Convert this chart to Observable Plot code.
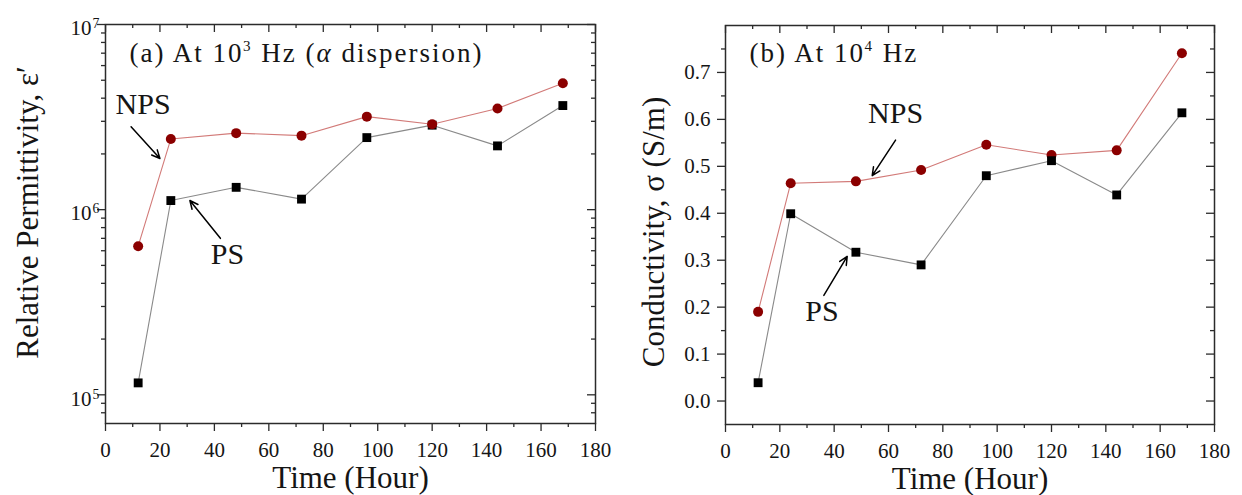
<!DOCTYPE html>
<html><head><meta charset="utf-8">
<script src="https://cdn.jsdelivr.net/npm/d3@7"></script>
<script src="https://cdn.jsdelivr.net/npm/@observablehq/plot@0.6"></script>
<style>
html,body{margin:0;padding:0;background:#fff;}
#wrap{display:flex;width:1242px;height:495px;overflow:hidden;}
#wrap svg{flex:none;}
</style></head><body><div id="wrap"></div>
<script>
// ---------- data ----------
const hours = [12, 24, 48, 72, 96, 120, 144, 168];
const permNPS = [6.35e5, 2.41e6, 2.59e6, 2.51e6, 3.18e6, 2.89e6, 3.52e6, 4.82e6];
const permPS  = [1.16e5, 1.12e6, 1.32e6, 1.14e6, 2.45e6, 2.86e6, 2.21e6, 3.65e6];
const condNPS = [0.190, 0.464, 0.468, 0.492, 0.546, 0.524, 0.534, 0.741];
const condPS  = [0.039, 0.399, 0.317, 0.290, 0.480, 0.512, 0.439, 0.614];

const xMajorTicks = [0, 20, 40, 60, 80, 100, 120, 140, 160, 180];
const xMinorTicks = [10, 30, 50, 70, 90, 110, 130, 150, 170];
const permMajorTicks = [1e5, 1e6, 1e7];
const permMinorTicks = [8e4, 9e4, 2e5, 3e5, 4e5, 5e5, 6e5, 7e5, 8e5, 9e5, 2e6, 3e6, 4e6, 5e6, 6e6, 7e6, 8e6, 9e6];
const condMajorTicks = [0, 0.1, 0.2, 0.3, 0.4, 0.5, 0.6, 0.7];
const condMinorTicks = [0.05, 0.15, 0.25, 0.35, 0.45, 0.55, 0.65, 0.75];

const titleA = "(a) At 10^{3} Hz (*{α} dispersion)";
const titleB = "(b) At 10^{4} Hz";
const yLabelA = "Relative Permittivity, ε′";
const yLabelB = "Conductivity, σ (S/m)";
const xLabel = "Time (Hour)";

const labelsA = [{text: "NPS", x: 13.8, y: 3.68e6}, {text: "PS", x: 44.8, y: 5.75e5}];
const arrowsA = [{x1: 9.4, y1: 2.8e6, x2: 20.0, y2: 1.89e6}, {x1: 42.2, y1: 7.0e5, x2: 31.0, y2: 1.12e6}];
const labelsB = [{text: "NPS", x: 62.6, y: 0.613}, {text: "PS", x: 35.5, y: 0.191}];
const arrowsB = [{x1: 62.6, y1: 0.556, x2: 54.0, y2: 0.480}, {x1: 36.2, y1: 0.225, x2: 44.8, y2: 0.308}];

// ---------- style ----------
const FONT = '"Liberation Serif","Times New Roman",serif';
const ink = "#2b2b2b";
const npsLine = "#d27a78", npsDot = "#8b0000";
const psLine = "#8a8a8a", psDot = "#000000";

function panel(o) {
  const W = 621, H = 495;
  const fw = W - o.ml - o.mr, fh = H - o.mt - o.mb;
  const rows = hours.map((h, i) => ({hour: h, nps: o.nps[i], ps: o.ps[i]}));
  const seriesPS = [
    Plot.line(rows, {x: "hour", y: "ps", stroke: psLine, strokeWidth: 1.1}),
    Plot.dot(rows, {x: "hour", y: "ps", symbol: "square", r: 5, fill: psDot, stroke: "none"})
  ];
  const seriesNPS = [
    Plot.line(rows, {x: "hour", y: "nps", stroke: npsLine, strokeWidth: 1.1}),
    Plot.dot(rows, {x: "hour", y: "nps", symbol: "circle", r: 5, fill: npsDot, stroke: "none"})
  ];
  const tk = {stroke: ink, strokeWidth: 1.3};
  return Plot.plot({
    width: W, height: H,
    marginLeft: o.ml, marginRight: o.mr, marginTop: o.mt, marginBottom: o.mb,
    style: {fontFamily: FONT, fontSize: "21px", background: "white", color: "#151515", overflow: "visible"},
    x: {domain: [0, 180]},
    y: {type: o.yType, domain: o.yDomain},
    marks: [
      // ticks: top (inward), bottom (outward)
      Plot.tickX(xMajorTicks, {insetBottom: fh - 8, ...tk}),
      Plot.tickX(xMinorTicks, {insetBottom: fh - 4, ...tk}),
      Plot.tickX(xMajorTicks, {insetTop: fh, insetBottom: -8, ...tk}),
      Plot.tickX(xMinorTicks, {insetTop: fh, insetBottom: -4, ...tk}),
      // ticks: left (outward), right (inward)
      Plot.tickY(o.yMajor, {insetLeft: -8, insetRight: fw, ...tk}),
      Plot.tickY(o.yMinor, {insetLeft: -4, insetRight: fw, ...tk}),
      Plot.tickY(o.yMajor, {insetLeft: fw - 8, ...tk}),
      Plot.tickY(o.yMinor, {insetLeft: fw - 4, ...tk}),
      Plot.frame({stroke: ink, strokeWidth: 1.5}),
      Plot.axisX({anchor: "bottom", ticks: xMajorTicks, tickSize: 0, tickPadding: 19, tickFormat: d => String(d), label: null, fontSize: 21}),
      Plot.axisY({anchor: "left", ticks: o.yMajor, tickSize: 0, tickPadding: o.yPad, tickFormat: o.yFormat, dy: o.yTickDy, label: null, fontSize: 21}),
      ...(o.npsFirst ? [...seriesNPS, ...seriesPS] : [...seriesPS, ...seriesNPS]),
      Plot.arrow(o.arrows, {x1: "x1", y1: "y1", x2: "x2", y2: "y2", stroke: "#000", strokeWidth: 1.5, headLength: 9, headAngle: 50}),
      Plot.text(o.labels, {x: "x", y: "y", text: "text", fontSize: 30, lineAnchor: "middle"}),
      Plot.text([o.title], {frameAnchor: "top-left", textAnchor: "start", lineAnchor: "middle", dx: 24, dy: o.titleDy, fontSize: 27}),
      Plot.text([o.yLabel], {frameAnchor: "left", textAnchor: "middle", rotate: -90, lineAnchor: "middle", dx: o.yLabelDx, dy: o.yLabelDy, fontSize: 31}),
      Plot.text([xLabel], {frameAnchor: "bottom", textAnchor: "middle", lineAnchor: "middle", dy: 55, fontSize: 31})
    ]
  });
}

const left = panel({
  nps: permNPS, ps: permPS, yType: "log", yDomain: [7e4, 1e7],
  yMajor: permMajorTicks, yMinor: permMinorTicks,
  yFormat: d => `10^{${Math.round(Math.log10(d))}}`, yPad: 6, yTickDy: 4,
  ml: 105, mr: 26, mt: 24, mb: 72,
  labels: labelsA, arrows: arrowsA, title: titleA, titleDy: 28.4,
  yLabel: yLabelA, yLabelDx: -77.5, yLabelDy: -11.5, npsFirst: false
});
const right = panel({
  nps: condNPS, ps: condPS, yType: "linear", yDomain: [-0.05, 0.8],
  yMajor: condMajorTicks, yMinor: condMinorTicks,
  yFormat: d3.format(".1f"), yPad: 15, yTickDy: 0,
  ml: 104, mr: 28, mt: 25, mb: 71,
  labels: labelsB, arrows: arrowsB, title: titleB, titleDy: 27.4,
  yLabel: yLabelB, yLabelDx: -71.6, yLabelDy: 7, npsFirst: true
});

const wrap = document.getElementById("wrap");
wrap.appendChild(left);
wrap.appendChild(right);

// rich text: ^{..} superscript, *{..} italic
function richify(svg) {
  svg.querySelectorAll("text").forEach(el => {
    const s = el.textContent;
    if (!/[\^*]\{/.test(s)) return;
    const fs = parseFloat(getComputedStyle(el).fontSize) || 21;
    const isTitle = (s === titleA || s === titleB);
    const supSize = fs * (isTitle ? 0.56 : 0.66), raise = fs * (isTitle ? 0.40 : 0.33);
    if (isTitle) el.style.letterSpacing = "2px";
    while (el.firstChild) el.removeChild(el.firstChild);
    let back = 0;
    const add = (txt, kind) => {
      if (!txt) return;
      const t = document.createElementNS("http://www.w3.org/2000/svg", "tspan");
      t.textContent = txt;
      let dy = back; back = 0;
      if (kind === "sup") {
        dy -= raise; back = raise;
        t.setAttribute("font-size", supSize);
        t.setAttribute("dx", isTitle ? -0.5 : 1);
      }
      if (kind === "it") t.setAttribute("font-style", "italic");
      if (dy) t.setAttribute("dy", dy);
      el.appendChild(t);
    };
    const re = /([\^*])\{([^}]*)\}/g;
    let last = 0, m;
    while ((m = re.exec(s))) {
      add(s.slice(last, m.index));
      add(m[2], m[1] === "^" ? "sup" : "it");
      last = re.lastIndex;
    }
    add(s.slice(last));
  });
}
richify(left);
richify(right);
</script></body></html>
